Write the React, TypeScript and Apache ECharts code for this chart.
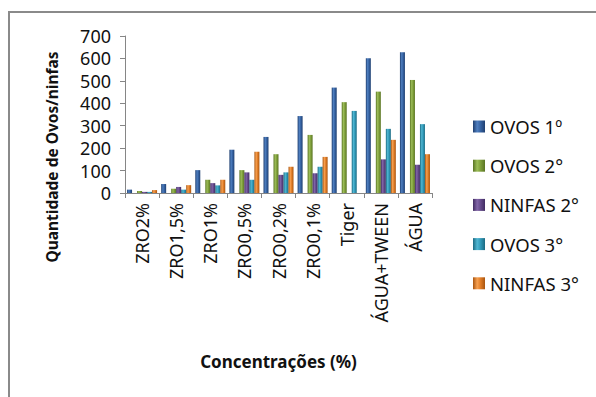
import React, { useEffect, useRef } from "react";
import * as echarts from "echarts";

const categories = ["ZRO2%", "ZRO1,5%", "ZRO1%", "ZRO0,5%", "ZRO0,2%", "ZRO0,1%", "Tiger", "ÁGUA+TWEEN", "ÁGUA"];
const ovos1 = [15, 40, 102, 193, 250, 343, 470, 601, 627];
const ninfas1 = [0, 0, 0, 0, 0, 0, 0, 0, 0];
const ovos2 = [9, 19, 59, 102, 173, 259, 405, 452, 504];
const ninfas2 = [5, 27, 44, 92, 81, 88, 0, 150, 126];
const ovos3 = [5, 15, 34, 59, 92, 117, 366, 286, 307];
const ninfas3 = [13, 35, 59, 184, 117, 161, 0, 237, 173];
const yTicks = [0, 100, 200, 300, 400, 500, 600, 700];
const yTitle = "Quantidade de Ovos/ninfas";
const xTitle = "Concentrações (%)";

const FONT = "Noto Sans";

function grad(edge: string, mid: string, hi: string) {
  return new echarts.graphic.LinearGradient(0, 0, 1, 0, [
    { offset: 0, color: edge },
    { offset: 0.35, color: hi },
    { offset: 0.65, color: mid },
    { offset: 1, color: edge },
  ]);
}

export default function App() {
  const ref = useRef<HTMLDivElement>(null);
  useEffect(() => {
    if (!ref.current) return;
    const chart = echarts.init(ref.current, undefined, { renderer: "svg" });
    const mk = (name: string, data: number[], c: any) => ({
      name,
      type: "bar",
      data,
      barGap: "0%",
      barCategoryGap: "12%",
      itemStyle: { color: c },
    });
    chart.setOption({
      animation: false,
      backgroundColor: "#ffffff",
      grid: { left: 125, right: 164, top: 36, bottom: 204, containLabel: false },
      legend: {
        orient: "vertical",
        left: 468,
        top: 112,
        itemWidth: 12,
        itemHeight: 12,
        itemGap: 20.2,
        icon: "rect",
        data: ["OVOS 1º", "OVOS 2°", "NINFAS 2°", "OVOS 3°", "NINFAS 3°"],
        textStyle: { fontFamily: FONT, fontSize: 18.5, color: "#111" },
      },
      graphic: [
        {
          type: "rect",
          shape: { x: 9, y: 12, width: 700, height: 500 },
          style: { fill: "none", stroke: "#8a8a8a", lineWidth: 2 },
          silent: true,
        },
        {
          type: "text",
          x: 52,
          y: 157,
          rotation: Math.PI / 2,
          style: {
            text: yTitle,
            fontFamily: FONT,
            fontSize: 15.5,
            fontWeight: "bold",
            fill: "#111",
            align: "center",
            verticalAlign: "middle",
          },
        },
      ],
      xAxis: {
        type: "category",
        data: categories,
        name: xTitle,
        nameLocation: "middle",
        nameGap: 160,
        nameTextStyle: { fontFamily: FONT, fontSize: 17, fontWeight: "bold", color: "#111" },
        axisLine: { lineStyle: { color: "#868686", width: 1 } },
        axisTick: { show: true, alignWithLabel: false, length: 5, lineStyle: { color: "#868686" } },
        axisLabel: { rotate: 90, margin: 10, fontFamily: FONT, fontSize: 18, color: "#111", interval: 0 },
      },
      yAxis: {
        type: "value",
        min: 0,
        max: 700,
        interval: 100,
        axisLine: { show: true, lineStyle: { color: "#868686", width: 1 } },
        axisTick: { show: true, length: 5, lineStyle: { color: "#868686" } },
        splitLine: { show: false },
        axisLabel: {
          margin: 14,
          fontFamily: FONT,
          fontSize: 18,
          color: "#111",
          formatter: (v: number) => (yTicks.includes(v) ? String(v) : ""),
        },
      },
      series: [
        mk("OVOS 1º", ovos1, grad("#1f3f70", "#34609f", "#4f7fc0")),
        mk("NINFAS 1º", ninfas1, "#c0504d"),
        mk("OVOS 2°", ovos2, grad("#5a7424", "#7c9c38", "#9cbd58")),
        mk("NINFAS 2°", ninfas2, grad("#412c62", "#634889", "#8266a8")),
        mk("OVOS 3°", ovos3, grad("#1c6a82", "#2f97b6", "#4fb6d2")),
        mk("NINFAS 3°", ninfas3, grad("#a85510", "#de7a24", "#f7a050")),
      ],
    });
    return () => chart.dispose();
  }, []);
  return (
    <div
      ref={ref}
      style={{ position: "fixed", left: 0, top: 0, width: 596, height: 397, background: "#fff" }}
    />
  );
}
